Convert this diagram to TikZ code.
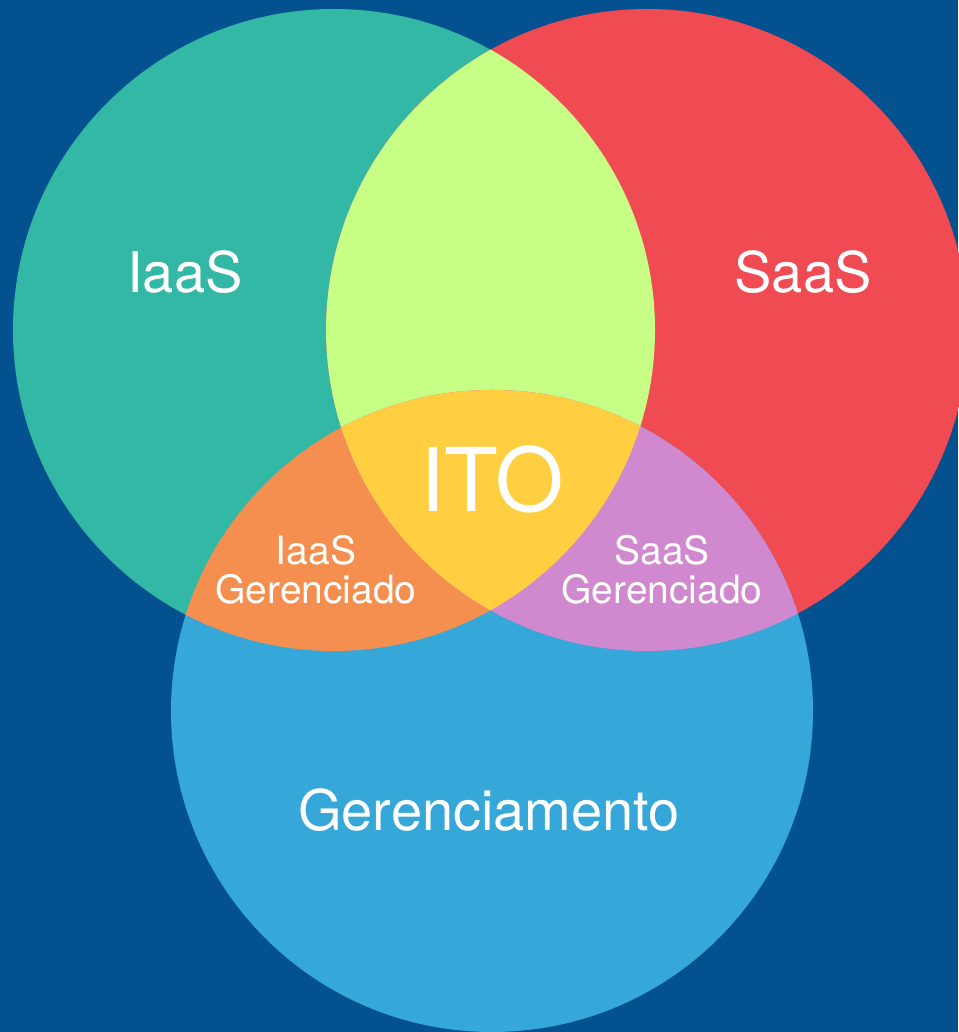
\documentclass[tikz,border=0pt]{standalone}
\usepackage{fontspec}
\setmainfont{TeX Gyre Heros}

\definecolor{bgblue}{HTML}{03518F}
\definecolor{iaasteal}{HTML}{34B8A6}
\definecolor{saasred}{HTML}{F04A52}
\definecolor{mgmtblue}{HTML}{35A7D8}
\definecolor{cloudlime}{HTML}{C7FE86}
\definecolor{iaasorange}{HTML}{F48F50}
\definecolor{saaspurple}{HTML}{D088CE}
\definecolor{itoyellow}{HTML}{FFCE41}

\tikzset{
  set label/.style={text=white, inner sep=0pt, anchor=base},
  big label/.style={set label, font=\fontsize{28}{30}\selectfont},
  small label/.style={text=white, inner sep=0pt, align=center,
    font=\fontsize{19.5}{19.5}\selectfont},
}

\begin{document}
\begin{tikzpicture}[x=0.5pt, y=0.5pt]
\useasboundingbox (0,0) rectangle (958,1032);
\fill [bgblue] (0,0) rectangle (958,1032);

% centres of the three sets
\coordinate (iaas) at (334,702);
\coordinate (saas) at (647,702);
\coordinate (mgmt) at (492,321);

\fill [iaasteal] (iaas) circle [radius=160.5pt];
\fill [saasred] (saas) circle [radius=160.5pt];
\fill [mgmtblue] (mgmt) circle [radius=160.5pt];

% overlaps
\begin{scope}
\clip (iaas) circle [radius=160.5pt];
\fill [cloudlime] (saas) circle [radius=160.5pt];
\fill [iaasorange] (mgmt) circle [radius=160.5pt];
\end{scope}
\begin{scope}
\clip (saas) circle [radius=160.5pt];
\fill [saaspurple] (mgmt) circle [radius=160.5pt];
\end{scope}
\begin{scope}
\clip (iaas) circle [radius=160.5pt];
\clip (saas) circle [radius=160.5pt];
\fill [itoyellow] (mgmt) circle [radius=160.5pt];
\end{scope}

\node [big label] (iaaslabel) at (185,739) {IaaS};
\node [big label] (saaslabel) at (803,739) {SaaS};
\node [big label] (mgmtlabel) at (489,201) {Gerenciamento};
\node [set label, font=\fontsize{44}{48}\selectfont] (itolabel) at (492,520) {ITO};

\node [small label] (iaasmgmt) at (316,462) {IaaS\\Gerenciado};
\node [small label] (saasmgmt) at (662,462) {SaaS\\Gerenciado};

\end{tikzpicture}
\end{document}
